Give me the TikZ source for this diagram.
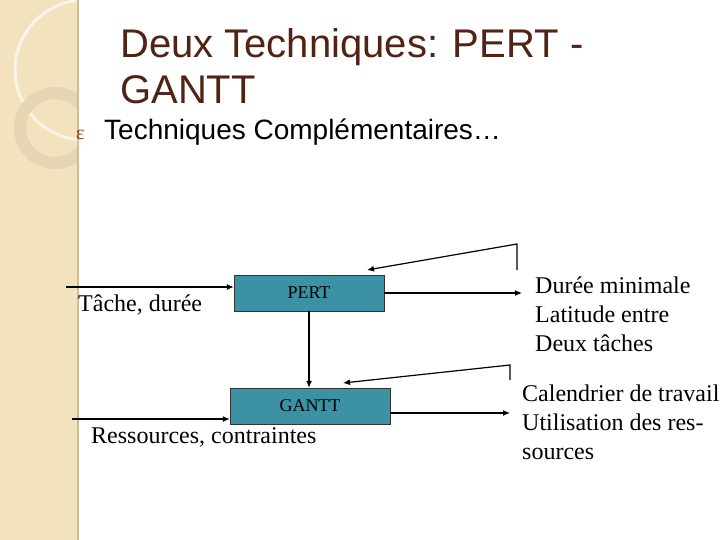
\documentclass[tikz,border=0pt]{standalone}
\usepackage{fontspec}
\setmainfont{Liberation Serif}
\newfontfamily\arialf{Liberation Sans}
\usetikzlibrary{arrows.meta}
\definecolor{band}{RGB}{242,226,190}
\definecolor{bandedge}{RGB}{205,190,155}
\definecolor{boxc}{RGB}{60,145,165}
\definecolor{titlec}{RGB}{80,35,20}
\begin{document}
\begin{tikzpicture}[x=1pt,y=-1pt,
  flow/.style={draw=black,line width=1.2pt,-{Latex[length=7pt,width=6pt]}},
  tbox/.style={draw=black!80,fill=boxc,minimum width=150pt,minimum height=36pt,inner sep=0pt,font=\fontsize{18}{20}\selectfont},
  lbl/.style={font=\fontsize{24}{29}\selectfont,align=left,inner sep=0pt}]
\useasboundingbox (0,0) rectangle (720,540);
\fill[white] (0,0) rectangle (720,540);
\fill[band] (0,0) rectangle (78,540);
\begin{scope}
\clip (0,0) rectangle (78,540);
\draw[white!60!band,line width=3pt] (85,70) circle[radius=70];
\draw[bandedge!35!band,line width=12pt] (55,128) circle[radius=35];
\end{scope}
\draw[bandedge,line width=1.5pt] (78,0) -- (78,540);
\node[font=\arialf\fontsize{40}{46}\selectfont,text=titlec,anchor=north west,align=left,inner sep=0pt] (title) at (120,28) {Deux Techniques: PERT -\\GANTT};
\node[font=\fontsize{20}{22}\selectfont,anchor=west,text=titlec!70!orange,inner sep=0pt] (bul) at (76,135) {ɛ};
\node[font=\arialf\fontsize{28}{32}\selectfont,anchor=west,inner sep=0pt] (sub) at (104,132) {Techniques Complémentaires…};
\node[tbox] (pert) at (309,293) {PERT};
\node[tbox,minimum width=160pt] (gantt) at (310,406) {GANTT};
\coordinate (in1) at (66,287);
\coordinate (in2) at (72,419);
\draw[flow] (in1) -- (in1 -| pert.west);
\draw[flow] (in2) -- (in2 -| gantt.west);
\node[lbl,anchor=north west] (tache) at (78,295) {Tâche, durée};
\node[lbl,anchor=north west] (res) at (91,427) {Ressources, contraintes};
\draw[flow] (pert.south) -- (pert.south |- gantt.north);
\coordinate (o1) at (522,293);
\draw[flow] (pert.east |- o1) -- (o1);
\coordinate (o2) at (510,413);
\draw[flow] (gantt.east |- o2) -- (o2);
\coordinate (f1a) at (517,270); \coordinate (f1b) at (517,244); \coordinate (f1c) at (367,270);
\draw[flow] (f1a) -- (f1b) -- (f1c);
\coordinate (f2a) at (510,380); \coordinate (f2b) at (510,365); \coordinate (f2c) at (343,383);
\draw[flow] (f2a) -- (f2b) -- (f2c);
\node[lbl,anchor=north west] (out1) at (535,277) {Durée minimale\\Latitude entre\\Deux tâches};
\node[lbl,anchor=north west] (out2) at (522,385) {Calendrier de travail\\Utilisation des res-\\sources};
\end{tikzpicture}
\end{document}
